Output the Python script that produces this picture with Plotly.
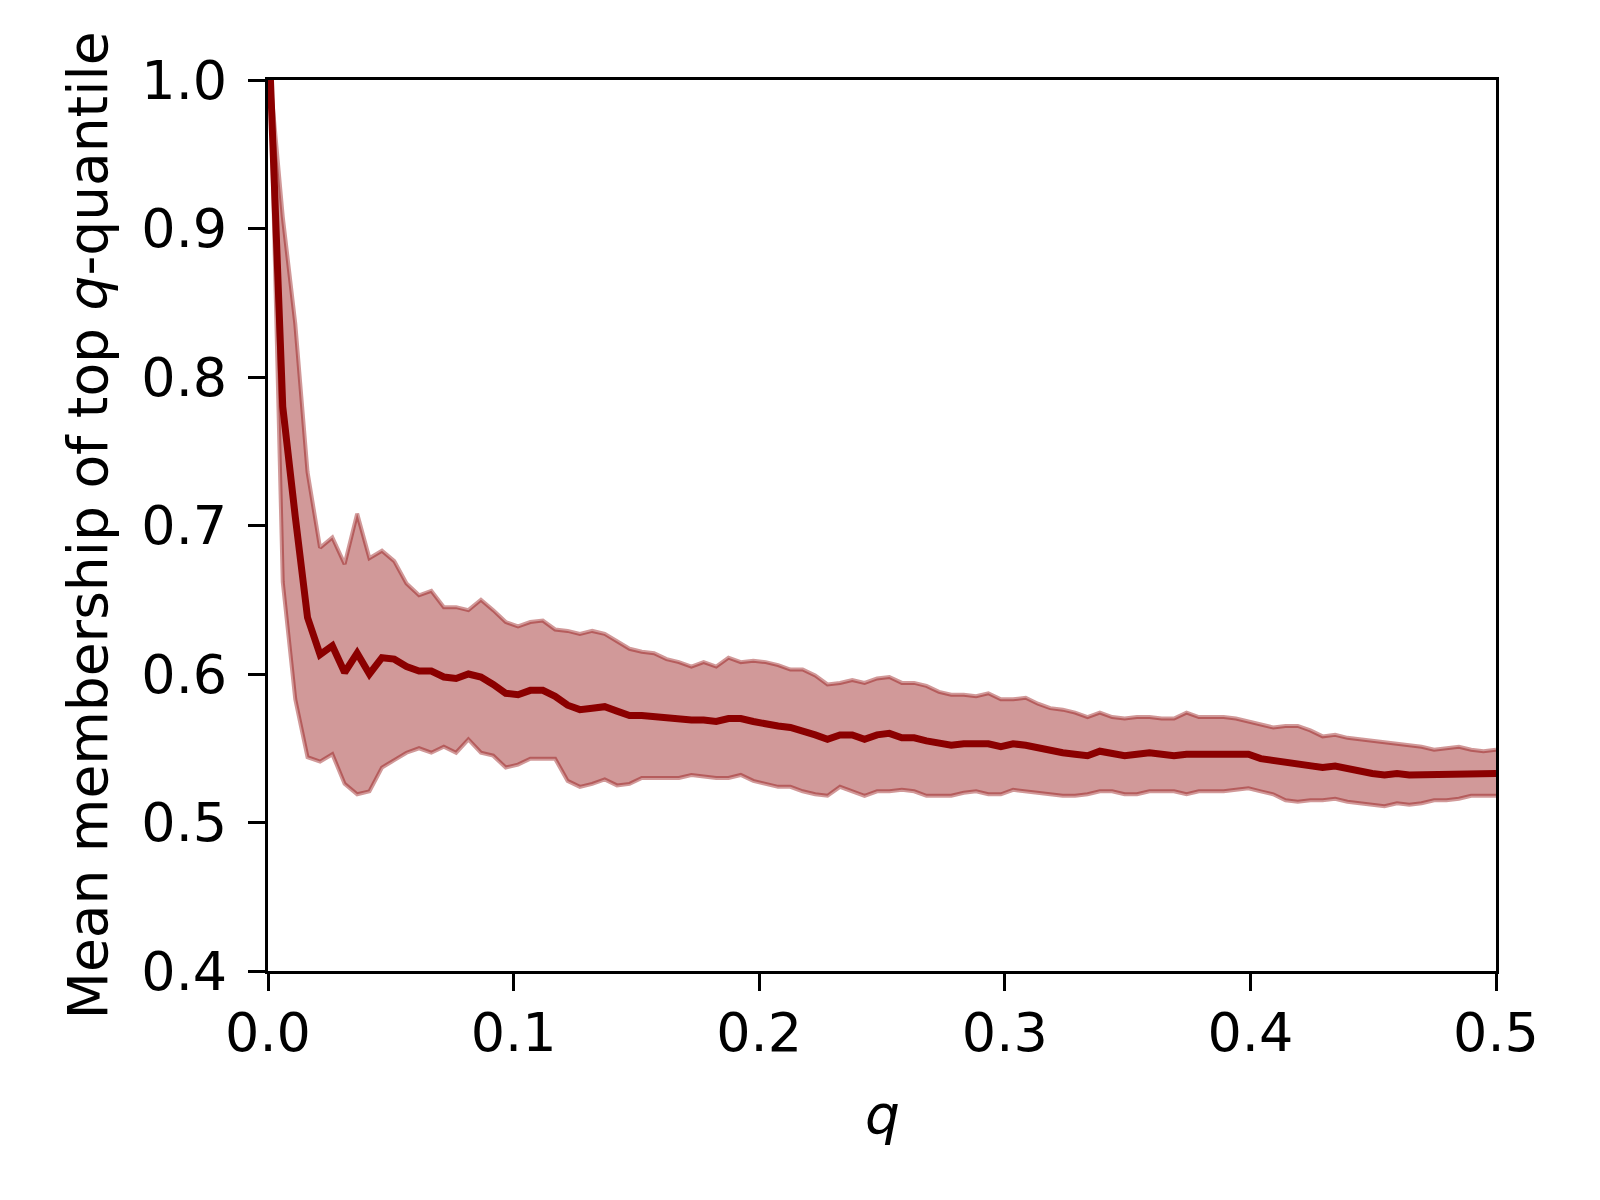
import plotly.graph_objects as go


# q grid (100 points between 0.001 and 0.5)
q_values = [
  0.0010, 0.0060, 0.0111, 0.0161, 0.0212, 0.0262, 0.0312, 0.0363, 0.0413, 0.0464,
  0.0514, 0.0564, 0.0615, 0.0665, 0.0716, 0.0766, 0.0816, 0.0867, 0.0917, 0.0968,
  0.1018, 0.1068, 0.1119, 0.1169, 0.1220, 0.1270, 0.1320, 0.1371, 0.1421, 0.1472,
  0.1522, 0.1572, 0.1623, 0.1673, 0.1724, 0.1774, 0.1825, 0.1875, 0.1925, 0.1976,
  0.2026, 0.2077, 0.2127, 0.2177, 0.2228, 0.2278, 0.2329, 0.2379, 0.2429, 0.2480,
  0.2530, 0.2581, 0.2631, 0.2681, 0.2732, 0.2782, 0.2833, 0.2883, 0.2933, 0.2984,
  0.3034, 0.3085, 0.3135, 0.3185, 0.3236, 0.3286, 0.3337, 0.3387, 0.3437, 0.3488,
  0.3538, 0.3589, 0.3639, 0.3689, 0.3740, 0.3790, 0.3841, 0.3891, 0.3941, 0.3992,
  0.4042, 0.4093, 0.4143, 0.4193, 0.4244, 0.4294, 0.4345, 0.4395, 0.4445, 0.4496,
  0.4546, 0.4597, 0.4647, 0.4697, 0.4748, 0.4798, 0.4849, 0.4899, 0.4949, 0.5000,
]

mean_membership = [
  1.000, 0.780, 0.706, 0.638, 0.613, 0.619, 0.601, 0.614, 0.600, 0.611,
  0.610, 0.605, 0.602, 0.602, 0.598, 0.597, 0.600, 0.598, 0.593, 0.587,
  0.586, 0.589, 0.589, 0.585, 0.579, 0.576, 0.577, 0.578, 0.575, 0.572,
  0.572, 0.571, 0.570, 0.569, 0.569, 0.569, 0.568, 0.570, 0.570, 0.568,
  0.566, 0.565, 0.564, 0.562, 0.559, 0.556, 0.559, 0.559, 0.556, 0.559,
  0.560, 0.557, 0.557, 0.555, 0.553, 0.552, 0.553, 0.553, 0.553, 0.551,
  0.553, 0.552, 0.550, 0.548, 0.547, 0.546, 0.545, 0.548, 0.547, 0.545,
  0.546, 0.547, 0.546, 0.545, 0.546, 0.546, 0.546, 0.546, 0.546, 0.546,
  0.543, 0.542, 0.540, 0.539, 0.539, 0.537, 0.538, 0.536, 0.534, 0.533,
  0.532, 0.533, 0.532, 0.532, 0.532, 0.532, 0.533, 0.533, 0.533, 0.533,
]

upper_bound = [
  1.000, 0.908, 0.836, 0.736, 0.685, 0.692, 0.674, 0.708, 0.678, 0.683,
  0.676, 0.661, 0.653, 0.656, 0.645, 0.645, 0.643, 0.650, 0.643, 0.635,
  0.632, 0.635, 0.636, 0.630, 0.629, 0.627, 0.629, 0.627, 0.622, 0.617,
  0.615, 0.614, 0.610, 0.608, 0.605, 0.608, 0.605, 0.611, 0.608, 0.609,
  0.608, 0.606, 0.603, 0.603, 0.599, 0.593, 0.594, 0.596, 0.594, 0.597,
  0.598, 0.594, 0.594, 0.592, 0.588, 0.586, 0.586, 0.585, 0.587, 0.583,
  0.583, 0.584, 0.580, 0.577, 0.576, 0.574, 0.571, 0.574, 0.571, 0.570,
  0.571, 0.571, 0.570, 0.570, 0.574, 0.571, 0.571, 0.571, 0.570, 0.568,
  0.566, 0.564, 0.565, 0.565, 0.562, 0.558, 0.559, 0.557, 0.556, 0.555,
  0.554, 0.553, 0.552, 0.551, 0.549, 0.550, 0.551, 0.549, 0.548, 0.549,
]

lower_bound = [
  1.000, 0.662, 0.583, 0.544, 0.541, 0.546, 0.526, 0.519, 0.521, 0.537,
  0.542, 0.547, 0.550, 0.547, 0.551, 0.547, 0.556, 0.547, 0.545, 0.537,
  0.539, 0.543, 0.543, 0.543, 0.528, 0.524, 0.526, 0.529, 0.525, 0.526,
  0.530, 0.530, 0.530, 0.530, 0.532, 0.531, 0.530, 0.530, 0.532, 0.528,
  0.526, 0.524, 0.524, 0.521, 0.519, 0.518, 0.524, 0.521, 0.518, 0.521,
  0.521, 0.522, 0.521, 0.518, 0.518, 0.518, 0.520, 0.521, 0.519, 0.519,
  0.522, 0.521, 0.520, 0.519, 0.518, 0.518, 0.519, 0.521, 0.521, 0.519,
  0.519, 0.521, 0.521, 0.521, 0.519, 0.521, 0.521, 0.521, 0.522, 0.523,
  0.521, 0.519, 0.515, 0.514, 0.515, 0.515, 0.516, 0.514, 0.513, 0.512,
  0.511, 0.513, 0.512, 0.513, 0.515, 0.515, 0.516, 0.518, 0.518, 0.518,
]

x_ticks = [0.0, 0.1, 0.2, 0.3, 0.4, 0.5]
y_ticks = [0.4, 0.5, 0.6, 0.7, 0.8, 0.9, 1.0]

LINE_COLOR = "#8b0000"
BAND_COLOR = "rgba(139, 0, 0, 0.4)"
FONT = "DejaVu Sans"
FONT_SIZE = 55
TICK_FONT_SIZE = 54

fig = go.Figure()

# band: lower edge first, upper edge fills down to it
fig.add_trace(go.Scatter(
  x = q_values,
  y = lower_bound,
  mode = "lines",
  line = dict(color = BAND_COLOR, width = 4),
  showlegend = False,
))
fig.add_trace(go.Scatter(
  x = q_values,
  y = upper_bound,
  mode = "lines",
  fill = "tonexty",
  fillcolor = BAND_COLOR,
  line = dict(color = BAND_COLOR, width = 4),
  showlegend = False,
))
fig.add_trace(go.Scatter(
  x = q_values,
  y = mean_membership,
  mode = "lines",
  line = dict(color = LINE_COLOR, width = 7),
  showlegend = False,
))

axis_style = dict(
  showline = True,
  linecolor = "black",
  linewidth = 3,
  mirror = True,
  ticks = "outside",
  ticklen = 17,
  tickwidth = 3,
  tickcolor = "black",
  showgrid = False,
  zeroline = False,
  tickformat = ".1f",
  tickfont = dict(family = FONT, size = TICK_FONT_SIZE, color = "black"),
)

# NOTE: page body adds an 8px offset, margins are shifted to compensate
fig.update_layout(
  width = 1600,
  height = 1200,
  paper_bgcolor = "white",
  plot_bgcolor = "white",
  margin = dict(l = 260, r = 112, t = 72, b = 237, pad = 0),
  font = dict(family = FONT, size = FONT_SIZE, color = "black"),
  xaxis = dict(range = [0, 0.5], tickmode = "array", tickvals = x_ticks,
    ticklabelstandoff = -5, **axis_style),
  yaxis = dict(range = [0.4, 1.0], tickmode = "array", tickvals = y_ticks,
    ticklabelstandoff = 10, **axis_style),
)

fig.add_annotation(
  text = "<i>q</i>",
  xref = "paper", yref = "paper",
  x = 0.5, y = 0,
  yshift = -144,
  xanchor = "center", yanchor = "middle",
  showarrow = False,
  font = dict(family = FONT, size = FONT_SIZE, color = "black"),
)
fig.add_annotation(
  text = "Mean membership of top <i>q</i>-quantile",
  xref = "paper", yref = "paper",
  x = 0, y = 0.5,
  xshift = -181,
  xanchor = "center", yanchor = "middle",
  textangle = -90,
  showarrow = False,
  font = dict(family = FONT, size = FONT_SIZE, color = "black"),
)

fig.write_html("out.html")
